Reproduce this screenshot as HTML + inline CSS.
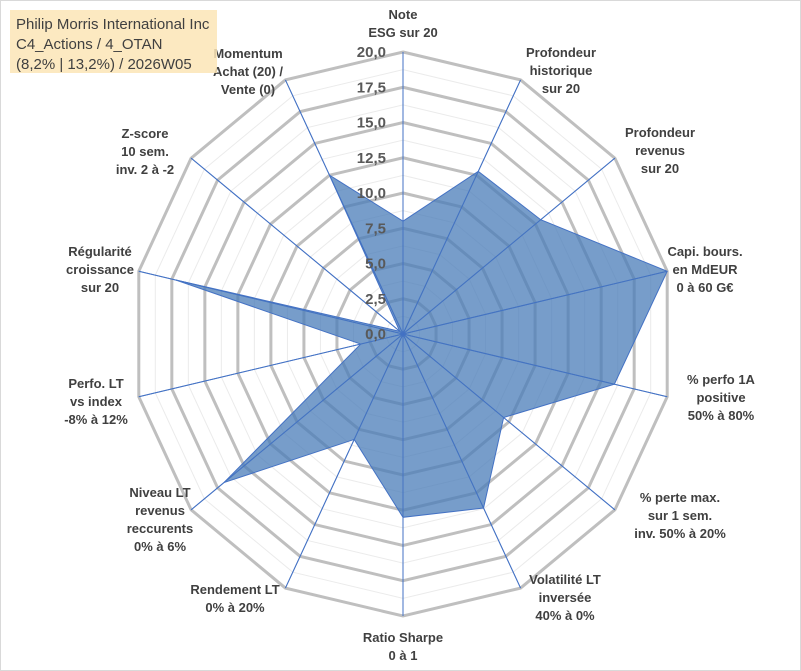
<!DOCTYPE html>
<html><head><meta charset="utf-8"><style>
body{margin:0;background:#fff;}
svg{display:block;font-family:"Liberation Sans",sans-serif;}
.lbl{font-weight:bold;font-size:13px;fill:#404040;text-anchor:middle;}
.tick{font-weight:bold;font-size:15px;fill:#595959;text-anchor:end;}
</style></head><body>
<svg id="chart" width="801" height="671">
<rect x="0.5" y="0.5" width="800" height="670" fill="#fff" stroke="#d9d9d9"/>
<g id="grid"></g><g id="spokes"></g><g id="series"></g><g id="ticks"></g><g id="labels"></g>
<rect x="10" y="10" width="207" height="63" fill="#fbe5b6" fill-opacity="0.85"/>
<text x="16" y="29" style="font-size:15px;fill:#404040">Philip Morris International Inc</text>
<text x="16" y="49" style="font-size:15px;fill:#404040">C4_Actions / 4_OTAN</text>
<text x="16" y="69" style="font-size:15px;fill:#404040">(8,2% | 13,2%) / 2026W05</text>
</svg>
<script>
const categories=[["Note","ESG sur 20"],["Profondeur","historique","sur 20"],["Profondeur","revenus","sur 20"],["Capi. bours.","en MdEUR","0 à 60 G€"],["% perfo 1A","positive","50% à 80%"],["% perte max.","sur 1 sem.","inv. 50% à 20%"],["Volatilité LT","inversée","40% à 0%"],["Ratio Sharpe","0 à 1"],["Rendement LT","0% à 20%"],["Niveau LT","revenus","reccurents","0% à 6%"],["Perfo. LT","vs index","-8% à 12%"],["Régularité","croissance","sur 20"],["Z-score","10 sem.","inv. 2 à -2"],["Momentum","Achat (20) /","Vente (0)"]];
const values=[8,12.8,13,20,16,9.5,13.7,13,8.3,16.9,3.2,17.2,0.3,12.5];
const tickValues=[0,2.5,5,7.5,10,12.5,15,17.5,20];
const tickLabels=["0,0","2,5","5,0","7,5","10,0","12,5","15,0","17,5","20,0"];
const labelPos=[[403,14],[561,52],[660,132],[705,251],[721,379],[680,497],[565,579],[403,637],[235,589],[160,492],[96,383],[100,251],[145,133],[248,53]];
const NS="http://www.w3.org/2000/svg";
const cx=403,cy=334,rx=271,ry=282,maxV=20,N=categories.length;
function pt(i,v){const a=i*2*Math.PI/N;return [cx+Math.sin(a)*rx*v/maxV, cy-Math.cos(a)*ry*v/maxV];}
function mk(tag,attrs,parent){const e=document.createElementNS(NS,tag);for(const k in attrs)e.setAttribute(k,attrs[k]);parent.appendChild(e);return e;}
const grid=document.getElementById('grid');
for(let v=1.25;v<=20.001;v+=1.25){
  const major=Math.abs(v/2.5-Math.round(v/2.5))<1e-6;
  const pts=categories.map((c,i)=>pt(i,v).join(',')).join(' ');
  const g=mk('polygon',{points:pts,fill:'none',stroke:major?'#bfbfbf':'#ebebeb','stroke-width':major?3:1},grid);
  
  
}
const sp=document.getElementById('spokes');
categories.forEach((c,i)=>{const p=pt(i,maxV);
  const l=mk('line',{x1:cx,y1:cy,x2:p[0],y2:p[1],stroke:'#4472c4','stroke-width':1},sp);
  
  
});
const ser=document.getElementById('series');
const poly=mk('polygon',{points:values.map((v,i)=>pt(i,v).join(',')).join(' '),fill:'#4a7cb8','fill-opacity':0.75,stroke:'#4472c4','stroke-width':1},ser);


categories.forEach((c,i)=>{const p=pt(i,maxV);
  const l=mk('line',{x1:cx,y1:cy,x2:p[0],y2:p[1],stroke:'#4472c4','stroke-width':1,'stroke-opacity':0.8},ser);
  
  
});
const tk=document.getElementById('ticks');
tickValues.forEach((v,i)=>{const p=pt(0,v);
  const t=mk('text',{x:cx-17,y:p[1]+5,class:'tick'},tk);t.textContent=tickLabels[i];
  
  
});
const lb=document.getElementById('labels');
categories.forEach((lines,i)=>{
  const t=mk('text',{class:'lbl',x:labelPos[i][0],y:labelPos[i][1]+5},lb);
  
  
  lines.forEach((s,j)=>{const ts=mk('tspan',{x:labelPos[i][0],dy:j?18:0},t);ts.textContent=s;});
});
</script>
</body></html>
